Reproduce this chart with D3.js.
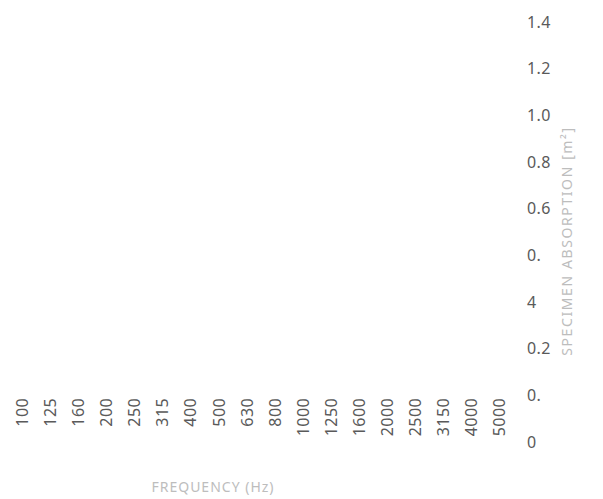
<!DOCTYPE html>
<html>
<head>
<meta charset="utf-8">
<script src="https://cdn.jsdelivr.net/npm/d3@7"></script>
<style>
  html, body { margin: 0; padding: 0; background: #fff; }
  svg { display: block; }
</style>
</head>
<body>
<svg id="chart" width="603" height="499"></svg>
<script>
// ---- data ----
const frequencies = ["100","125","160","200","250","315","400","500","630","800","1000","1250","1600","2000","2500","3150","4000","5000"];
// y-axis tick labels as they appear (wrapped lines)
const yTickLines = ["1.4","1.2","1.0","0.8","0.6","0.","4","0.2","0.","0"];
const xTitle = "FREQUENCY (Hz)";
const yTitle = "SPECIMEN ABSORPTION [m²]";
// no series values are plotted in the reference
const absorption = [];

const svg = d3.select("#chart");
const font = "'Noto Sans', 'Open Sans', sans-serif";

// x scale (categories)
const x = d3.scalePoint().domain(frequencies).range([22, 499]);
// y label lines
const yLines = d3.scalePoint().domain(d3.range(yTickLines.length)).range([22, 442]);

// x axis
const xAxis = svg.append("g")
  .attr("transform", "translate(0,398)")
  .call(d3.axisBottom(x).tickSize(0).tickPadding(0));
xAxis.select(".domain").remove();
xAxis.selectAll(".tick text")
  .attr("transform", "rotate(-90)")
  .attr("x", 0)
  .attr("y", 0)
  .attr("dy", "0.35em")
  .attr("text-anchor", "end")
  .attr("font-family", font)
  .attr("font-size", "16px")
  .attr("letter-spacing", "0.4px")
  .attr("fill", "#5a5a5a");

// y label lines
svg.append("g").selectAll("text")
  .data(yTickLines)
  .join("text")
  .attr("x", 527)
  .attr("y", (d, i) => yLines(i))
  .attr("dy", "0.35em")
  .attr("font-family", font)
  .attr("font-size", "16px")
  .attr("letter-spacing", "0.4px")
  .attr("fill", "#5a5a5a")
  .text(d => d);

// axis titles
svg.append("text")
  .attr("x", 213).attr("y", 487)
  .attr("dy", "0.35em")
  .attr("text-anchor", "middle")
  .attr("font-family", font)
  .attr("font-size", "14px")
  .attr("letter-spacing", "1px")
  .attr("fill", "#bdbdbd")
  .text(xTitle);

svg.append("text")
  .attr("transform", "translate(567,241) rotate(-90)")
  .attr("dy", "0.35em")
  .attr("text-anchor", "middle")
  .attr("font-family", font)
  .attr("font-size", "14px")
  .attr("letter-spacing", "1.6px")
  .attr("fill", "#bdbdbd")
  .text(yTitle);
</script>
</body>
</html>
